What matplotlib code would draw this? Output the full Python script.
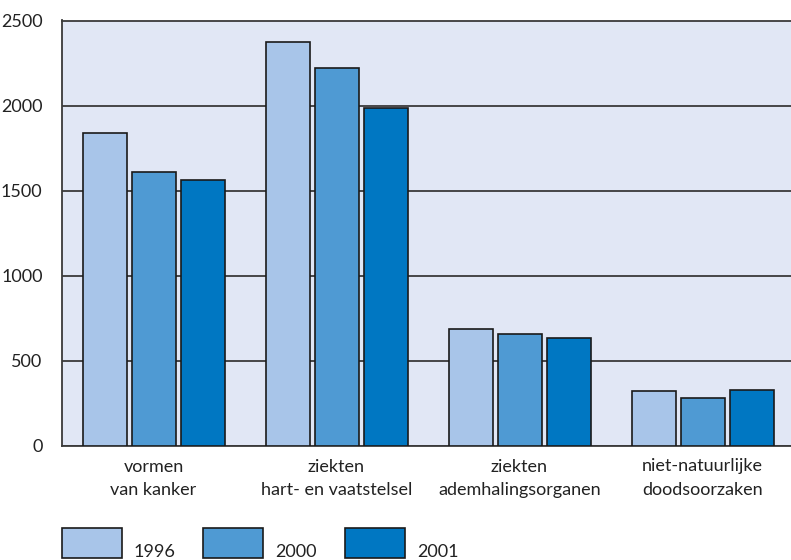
import matplotlib
matplotlib.use("Agg")
import matplotlib.pyplot as plt
import numpy as np
from matplotlib.patches import Rectangle

# Categories and values
categories = ["vormen\nvan kanker", "ziekten\nhart- en vaatstelsel",
              "ziekten\nademhalingsorganen", "niet-natuurlijke\ndoodsoorzaken"]
years = ["1996", "2000", "2001"]
values_1996 = [1840, 2375, 690, 322]
values_2000 = [1612, 2222, 657, 284]
values_2001 = [1565, 1988, 633, 328]
yticks = [0, 500, 1000, 1500, 2000, 2500]

colors = ["#a8c5e9", "#4f9ad3", "#0077c2"]
bg = "#e1e7f5"
txt = "#222222"
fs = 13

plt.rcParams['font.family'] = ['Lato', 'DejaVu Sans']

W, H = 791, 560
fig = plt.figure(figsize=(W / 100, H / 100), dpi=100)

# axes in pixel coordinates: left 62, top 20, bottom 446, width of 4 groups = 732
left, top, bottom, width = 62, 20.5, 446, 732
ax = fig.add_axes([left / W, 1 - bottom / H, width / W, (bottom - top) / H])
ax.set_facecolor(bg)

x = np.arange(len(categories))
step = 49 / 183
bw = 44 / 183
for i, (vals, c) in enumerate(zip([values_1996, values_2000, values_2001], colors)):
    ax.bar(x + (i - 1) * step, vals, width=bw, color=c, edgecolor="#1a1a1a",
           linewidth=1.2, zorder=3)

ax.set_xlim(-0.5, 3.5)
ax.set_ylim(0, 2500)
ax.set_yticks(yticks)
ax.set_xticks(x)
ax.set_xticklabels(categories, linespacing=1.55)
ax.tick_params(axis="both", length=0, labelsize=fs, colors=txt)
ax.tick_params(axis="y", pad=14)
ax.tick_params(axis="x", pad=9)
ax.yaxis.grid(True, color="#3a3a3a", linewidth=1.3, zorder=1)
ax.set_axisbelow(True)
for s in ["left", "top", "bottom"]:
    ax.spines[s].set_color("#3a3a3a")
    ax.spines[s].set_linewidth(1.3)
ax.spines["right"].set_visible(False)

# Legend drawn by hand, matching the reference layout
box_x = [62, 203, 345]
for bx, c, lab in zip(box_x, colors, years):
    fig.add_artist(Rectangle((bx / W, 1 - 558 / H), 60 / W, 30 / H,
                             transform=fig.transFigure, facecolor=c,
                             edgecolor="#1a1a1a", linewidth=1.2))
    fig.text((bx + 72) / W, 1 - 560 / H, lab, fontsize=fs, color=txt,
             ha="left", va="bottom")

fig.savefig("out.png", dpi=100)
